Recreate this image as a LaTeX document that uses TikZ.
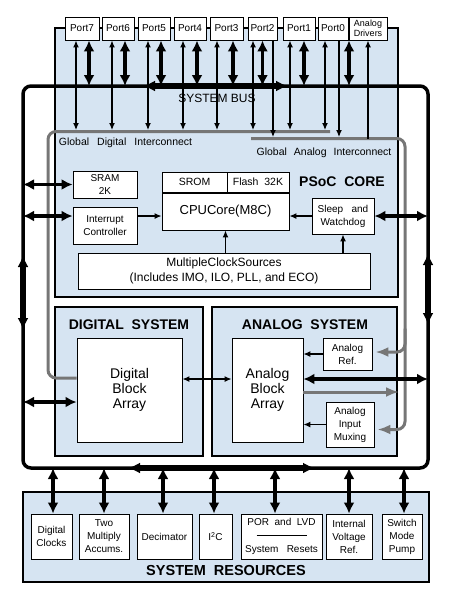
\documentclass[tikz,border=0pt]{standalone}
\usepackage{fontspec}
\setmainfont{Liberation Sans}
\usetikzlibrary{arrows.meta,positioning,calc}

\definecolor{coreblue}{RGB}{214,228,242}
\definecolor{wiregray}{RGB}{118,118,118}

\tikzset{
  area/.style={draw,line width=1.3pt,fill=coreblue},
  blk/.style={draw,line width=0.9pt,fill=white,inner sep=1pt,align=center,
    font=\fontsize{10}{13}\selectfont},
  port/.style={blk,minimum height=23pt},
  title/.style={font=\fontsize{14}{16}\selectfont\bfseries},
  sysbus/.style={line width=3.5pt,rounded corners=8pt},
  busarr/.style={line width=5.5pt,{Latex[length=12pt,width=11pt]}-{Latex[length=12pt,width=11pt]}},
  fat/.style={line width=3.5pt,{Latex[length=11pt,width=11pt]}-{Latex[length=11pt,width=11pt]}},
  tarr/.style={line width=1.2pt,-{Latex[length=7pt,width=6pt]}},
  ttarr/.style={line width=1.2pt,{Latex[length=7pt,width=6pt]}-{Latex[length=7pt,width=6pt]}},
  gline/.style={draw=wiregray,line width=3pt,rounded corners=8pt},
  garr/.style={gline,-{Latex[length=13pt,width=10pt]}},
}

\begin{document}
\begin{tikzpicture}[x=1pt,y=-1pt]
  \useasboundingbox (0,0) rectangle (449,603);

  % blue areas
  \draw[area] (55,28) rectangle (398,297);
  \draw[area] (55,307) rectangle (203,456);
  \draw[area] (212,307) rectangle (397,456);
  \draw[area] (23,492) rectangle (429,582);

  % system bus
  \coordinate (busL) at (23,0);
  \coordinate (busR) at (428,0);
  \coordinate (busT) at (0,86);
  \coordinate (busB) at (0,468);
  \draw[sysbus] (23,86) rectangle (428,468);
  \draw[busarr] (143,86) -- (288,86);
  \draw[busarr] (128,468) -- (315,468);
  \draw[busarr] (23,255) -- (23,330);
  \draw[busarr] (428,253) -- (428,325);
  \node[font=\fontsize{12}{14}\selectfont] (busname) at (217,98) {SYSTEM BUS};

  % ports
  \foreach \n/\x/\w in {7/82/34,6/118/32,5/154/32,4/190/32,3/226.5/33,2/262.5/29,1/299/32,0/333/30}
    \node[port,minimum width=\w pt] (p\n) at (\x,28.5) {Port\n};
  \node[port,minimum width=38pt,font=\fontsize{9}{9.5}\selectfont] (drv) at (368,28.5) {Analog\\Drivers};

  % interconnect labels
  \coordinate (gdi) at (0,130);
  \coordinate (gai) at (0,137);
  \coordinate (gR) at (405,138.5);
  \node[font=\fontsize{10.5}{12}\selectfont] (gdilbl) at (125.5,143)
    {Global\hspace{8pt}Digital\hspace{8pt}Interconnect};
  \node[font=\fontsize{10.5}{12}\selectfont] (gailbl) at (324,153)
    {Global\hspace{7pt}Analog\hspace{7pt}Interconnect};

  % PSoC core
  \node[title] (corelbl) at (342,182) {PSoC\ \ CORE};
  \node[blk,minimum width=64pt,minimum height=27pt] (sram) at (105,184.5) {SRAM\\2K};
  \node[blk,minimum width=64pt,minimum height=37pt] (intc) at (105,225.5) {Interrupt\\Controller};
  \node[blk,minimum width=127pt,minimum height=37pt,font=\fontsize{13}{15}\selectfont] (cpu) at (225.5,211.5) {CPUCore(M8C)};
  \node[blk,minimum width=65pt,minimum height=20pt,anchor=south west,font=\fontsize{10.5}{12}\selectfont] (srom) at (cpu.north west) {SROM};
  \node[blk,minimum width=62pt,minimum height=20pt,anchor=south east,font=\fontsize{10.5}{12}\selectfont] (flash) at (cpu.north east) {Flash\ \ 32K};
  \node[blk,minimum width=62pt,minimum height=36pt] (sleep) at (343,216) {Sleep\ \ \ and\\Watchdog};
  \node[blk,minimum width=292pt,minimum height=36pt,font=\fontsize{12}{15}\selectfont] (clk) at (224,271)
    {MultipleClockSources\\(Includes IMO, ILO, PLL, and ECO)};

  % digital and analog systems
  \node[title] (diglbl) at (129,325) {DIGITAL\ \ SYSTEM};
  \node[title] (analbl) at (305,325) {ANALOG\ \ SYSTEM};
  \node[blk,minimum width=105pt,minimum height=104pt,font=\fontsize{14}{15}\selectfont] (dba) at (129.5,390) {Digital\\Block\\Array};
  \node[blk,minimum width=71pt,minimum height=104pt,font=\fontsize{14}{15}\selectfont] (aba) at (267.5,390) {Analog\\Block\\Array};
  \node[blk,minimum width=49pt,minimum height=32pt] (ar) at (347.5,354) {Analog\\Ref.};
  \node[blk,minimum width=48pt,minimum height=45pt] (aim) at (350,424.5) {Analog\\Input\\Muxing};

  % system resources
  \node[title,font=\fontsize{14.5}{16}\selectfont\bfseries] (reslbl) at (226,571) {SYSTEM\ \ RESOURCES};
  \node[blk,minimum width=41pt,minimum height=45pt] (dclk) at (51.5,536.5) {Digital\\Clocks};
  \node[blk,minimum width=50pt,minimum height=45pt] (mac) at (104,536.5) {Two\\Multiply\\Accums.};
  \node[blk,minimum width=55pt,minimum height=45pt] (dec) at (164.5,536.5) {Decimator};
  \node[blk,minimum width=33pt,minimum height=45pt] (i2c) at (215.5,536.5) {I\textsuperscript{2}C};
  \node[blk,minimum width=81pt,minimum height=45pt,font=\fontsize{10}{13.5}\selectfont] (por) at (281.5,536.5)
    {POR\ \ and\ \ LVD\\\rule[3pt]{50pt}{0.7pt}\\System\ \ \ Resets};
  \node[blk,minimum width=46pt,minimum height=45pt] (ivr) at (349,536.5) {Internal\\Voltage\\Ref.};
  \node[blk,minimum width=40pt,minimum height=45pt] (smp) at (402,536.5) {Switch\\Mode\\Pump};

  % global interconnects
  \draw[gline] (330,131.5) -| (48,300) |- ($(dba.west)+(0,-12)$);
  \draw[garr] (251,138.5) -- (gR) |- ($(aim.east)+(3,5)$);
  \draw[garr] ($(gR)+(0,190)$) |- ($(ar.east)+(3,-2)$);
  \draw[garr] ($(aba.east)+(0,2)$) -- ($(aba.east -| gR)+(-6,2)$);

  % port connections
  \foreach \n/\dx in {7/-6,6/-6,5/-6,4/-7,3/-9.5,2/-9.5,1/-9,0/-8}
    \draw[ttarr] ($(p\n.south)+(\dx,0)$) -- ($(p\n.south |- gdi)+(\dx,0)$);
  \foreach \n/\dx in {7/7,6/7,5/7,4/7,3/6.5,2/0,1/5,0/16}
    \draw[fat] ($(p\n.south)+(\dx,0)$) -- ($(p\n.south |- busT)+(\dx,0)$);
  \draw[tarr] ($(p2.south)+(10.5,0)$) -- ($(p2.south |- gai)+(10.5,0)$);
  \draw[tarr] ($(p0.south)+(6,0)$) -- ($(p0.south |- gai)+(6,0)$);
  \draw[tarr] ($(drv.south |- gai)+(0,1.5)$) -- (drv.south);

  % core connections
  \draw[tarr] (intc.east |- sleep.west) -- (cpu.west |- sleep.west);
  \draw[tarr] (sleep.west) -- (cpu.east |- sleep.west);
  \draw[tarr] (clk.north -| cpu.south) -- (cpu.south);
  \draw[tarr] (clk.north -| sleep.south) -- (sleep.south);
  \draw[fat] (busL |- sram.west) -- (sram.west);
  \draw[fat] (busL |- sleep.west) -- (intc.west |- sleep.west);
  \draw[fat] (sleep.east) -- (busR |- sleep.east);

  % system connections
  \draw[tarr] (ar.west) -- (aba.east |- ar.west);
  \draw[tarr] (aim.west) -- (aba.east |- aim.west);
  \draw[ttarr] ($(dba.east)+(0,-11)$) -- ($(aba.west)+(0,-11)$);
  \draw[fat] ($(aba.east)+(0,-11)$) -- ($(aba.east -| busR)+(0,-11)$);
  \draw[fat] ($(busL |- dba.west)+(0,12)$) -- ($(dba.west)+(0,12)$);

  % resource connections
  \foreach \b/\dx in {dclk/1.5,mac/0,dec/-1.5,i2c/-1.5,por/-6.5,ivr/0,smp/2}
    \draw[fat] ($(\b.north |- busB)+(\dx,0)$) -- ($(\b.north)+(\dx,0)$);
\end{tikzpicture}
\end{document}
